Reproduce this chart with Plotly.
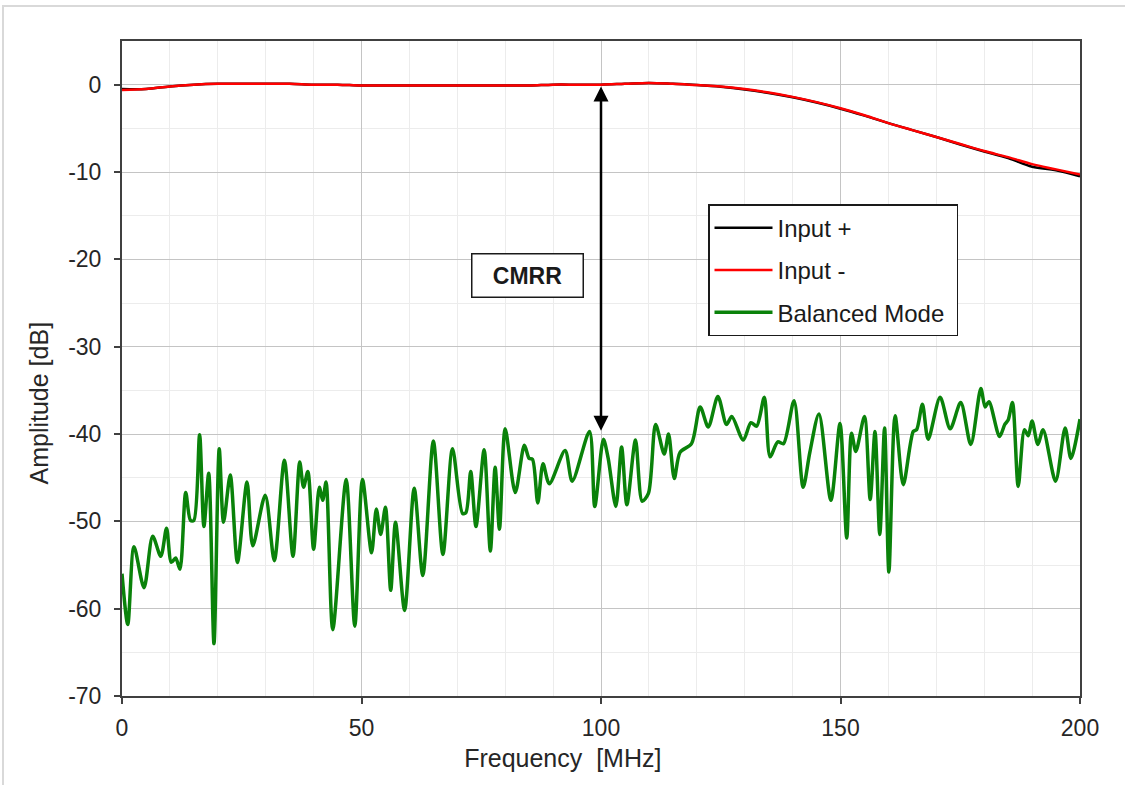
import plotly.graph_objects as go

# ---- Data ----
in_freq = [0, 5, 10, 15, 20, 25, 30, 35, 40, 45, 50, 55, 60, 65, 70, 75, 80, 85, 90, 95,
           100, 105, 110, 115, 120, 125, 130, 135, 140, 145, 150, 155, 160, 165, 170, 175,
           180, 185, 190, 195, 200]
input_plus = [-0.5, -0.5, -0.2, 0.0, 0.1, 0.1, 0.1, 0.1, 0.0, 0.0, -0.1, -0.1, -0.1, -0.1,
              -0.1, -0.1, -0.1, -0.1, 0.0, 0.0, 0.0, 0.1, 0.2, 0.1, -0.05, -0.25, -0.55,
              -0.95, -1.45, -2.05, -2.75, -3.55, -4.4, -5.2, -6.0, -6.85, -7.65, -8.4,
              -9.4, -9.8, -10.5]
input_minus = [-0.6, -0.5, -0.2, 0.0, 0.1, 0.1, 0.1, 0.1, 0.0, 0.0, -0.1, -0.1, -0.1, -0.1,
               -0.1, -0.1, -0.1, -0.1, 0.0, 0.0, 0.0, 0.1, 0.2, 0.1, -0.05, -0.2, -0.5,
               -0.9, -1.4, -2.0, -2.7, -3.5, -4.4, -5.2, -6.0, -6.8, -7.6, -8.3,
               -9.1, -9.7, -10.3]

bal_freq = [0, 1.2, 2.5, 4.6, 6.4, 8.1, 9.3, 10.3, 11.2, 12.1, 13.3, 14.3, 15.0, 16.2, 17.1,
            18.1, 19.2, 20.3, 21.2, 22.6, 24.1, 26.1, 27.3, 29.9, 31.8, 33.9, 35.7, 37.1,
            37.9, 38.8, 40.0, 41.2, 41.9, 42.6, 44.0, 46.8, 48.6, 50.2, 52.1, 53.1, 54.0,
            55.0, 56.1, 57.1, 59.0, 61.0, 62.8, 65.0, 67.0, 69.0, 71.1, 71.8, 72.8, 73.9,
            75.6, 76.9, 77.9, 78.8, 80.0, 82.1, 84.0, 85.0, 85.7, 86.8, 87.9, 89.2, 92.5,
            94.0, 97.6, 98.7, 100.5, 101.5, 103.1, 104.3, 105.4, 107.2, 108.6, 109.9,
            111.4, 113.2, 114.1, 115.3, 116.5, 118.9, 120.7, 122.4, 124.4, 126.2, 127.3,
            129.7, 131.3, 132.5, 134.1, 135.3, 136.9, 138.1, 140.3, 142.2, 143.6, 145.5,
            148.0, 149.9, 151.3, 152.3, 153.2, 155.0, 156.2, 157.2, 158.2, 159.2, 160.1,
            161.4, 163.1, 165.2, 165.9, 167.1, 168.3, 170.8, 172.9, 175.1, 177.2, 179.3,
            180.2, 181.0, 183.2, 184.3, 185.0, 185.9, 187.1, 188.4, 189.2, 190.0, 191.2,
            192.3, 194.9, 196.9, 198.1, 200.0]
bal_db = [-56.0, -61.8, -52.9, -57.6, -51.7, -54.0, -50.8, -54.7, -54.2, -55.5, -46.7, -49.9,
          -49.9, -40.1, -50.6, -44.5, -64.0, -41.7, -50.1, -44.7, -54.7, -45.5, -52.8, -47.0,
          -54.5, -43.0, -54.0, -43.2, -46.1, -44.3, -53.2, -46.1, -47.6, -45.5, -62.4, -45.2,
          -62.0, -45.2, -53.6, -48.6, -51.5, -48.4, -57.9, -50.1, -60.2, -46.2, -56.2, -40.8,
          -53.8, -41.7, -49.1, -49.0, -44.3, -50.6, -41.8, -53.4, -43.8, -50.9, -39.4, -46.7,
          -41.3, -42.8, -42.9, -47.9, -43.4, -45.7, -41.9, -45.4, -39.7, -48.3, -40.6, -42.8,
          -48.3, -41.5, -48.1, -40.7, -47.7, -46.8, -38.9, -42.3, -40.0, -45.1, -42.1, -41.1,
          -36.9, -39.2, -35.7, -38.9, -38.0, -40.7, -38.7, -39.1, -35.8, -42.6, -40.9, -41.1,
          -36.2, -46.1, -42.1, -37.7, -47.6, -38.8, -51.9, -39.9, -42.0, -38.0, -47.5, -39.7,
          -51.5, -39.3, -55.8, -37.9, -45.8, -39.7, -39.5, -36.6, -40.6, -35.8, -39.4, -36.4,
          -41.2, -34.8, -36.9, -36.3, -40.3, -38.9, -38.4, -36.4, -46.0, -39.5, -40.2, -38.5,
          -41.2, -39.5, -45.4, -39.3, -42.8, -38.3]

x_tickvals = [0, 50, 100, 150, 200]
x_ticktext = ["0", "50", "100", "150", "200"]
y_tickvals = [-70, -60, -50, -40, -30, -20, -10, 0]
y_ticktext = ["-70", "-60", "-50", "-40", "-30", "-20", "-10", "0"]

assert len(bal_freq) == len(bal_db)
assert len(in_freq) == len(input_plus) == len(input_minus)

FONT = "Liberation Sans, Arial, sans-serif"
NB = "&nbsp;"

fig = go.Figure()
fig.add_trace(go.Scatter(x=in_freq, y=input_plus, mode="lines", name="Input +",
                         line=dict(color="black", width=2.5, shape="spline"),
                         legendgroup="a"))
fig.add_trace(go.Scatter(x=in_freq, y=input_minus, mode="lines", name="Input -",
                         line=dict(color="#ff0000", width=2.5, shape="spline"),
                         legendgroup="b"))
fig.add_trace(go.Scatter(x=bal_freq, y=bal_db, mode="lines", name="Balanced Mode" + NB,
                         line=dict(color="#0a820a", width=3.5, shape="spline", smoothing=0.8),
                         legendgroup="c"))

# CMRR double arrow at 100 MHz
fig.add_annotation(x=100, y=-0.2, ax=100, ay=-39.8, xref="x", yref="y", axref="x", ayref="y",
                   text="", showarrow=True, arrowhead=2, startarrowhead=2,
                   arrowside="end+start", arrowsize=1.2, startarrowsize=1.2,
                   arrowwidth=2.5, arrowcolor="black", standoff=0, startstandoff=0)
fig.add_annotation(x=84.6, y=-21.9, xref="x", yref="y", text="<b>CMRR</b>",
                   showarrow=False, font=dict(family=FONT, size=23, color="#1a1a1a"),
                   bordercolor="#1a1a1a", borderwidth=1.5, borderpad=4,
                   bgcolor="white", width=102, height=34)

# light outer chart border
fig.add_shape(type="rect", xref="paper", yref="paper",
              x0=(3 - 122) / 958, x1=(1135 - 122) / 958,
              y0=(696 - 795) / 654, y1=(696 - 7) / 654,
              line=dict(color="#d9d9d9", width=2), fillcolor="rgba(0,0,0,0)", layer="below")

axis_common = dict(showline=True, linecolor="#404040", linewidth=2, mirror=True,
                   ticks="outside", ticklen=6, tickwidth=1.5, tickcolor="#404040",
                   gridcolor="#c4c4c4", gridwidth=1.3, zeroline=False,
                   tickfont=dict(family=FONT, size=23, color="#262626"))

fig.update_xaxes(range=[0, 200], tickvals=x_tickvals, ticktext=x_ticktext,
                 ticklabelstandoff=4,
                 minor=dict(dtick=10, showgrid=True, gridcolor="#ececec", gridwidth=1.3,
                            ticks=""),
                 title=dict(text="Frequency  [MHz]" + NB * 11,
                            font=dict(family=FONT, size=25, color="#262626"), standoff=10),
                 **axis_common)
fig.update_yaxes(range=[-70, 5], tickvals=y_tickvals, ticktext=y_ticktext,
                 ticklabelstandoff=8,
                 minor=dict(dtick=5, showgrid=True, gridcolor="#ececec", gridwidth=1.3,
                            ticks=""),
                 title=dict(text="Amplitude [dB]" + NB * 10,
                            font=dict(family=FONT, size=25, color="#262626"), standoff=12),
                 **axis_common)

fig.update_layout(
    width=1125, height=785,
    margin=dict(l=122, r=45, t=41, b=89),
    paper_bgcolor="white", plot_bgcolor="white",
    font=dict(family=FONT, color="#262626"),
    legend=dict(x=(708 - 122) / 958, y=(696 - 205) / 654, xanchor="left", yanchor="top",
                bgcolor="white", bordercolor="#1a1a1a", borderwidth=1.5,
                font=dict(family=FONT, size=24, color="#1a1a1a"),
                tracegroupgap=8, traceorder="grouped", itemwidth=58),
    showlegend=True,
)

fig.write_html("out.html", config={"displayModeBar": False},
               post_script="document.body.style.margin='0px';")
